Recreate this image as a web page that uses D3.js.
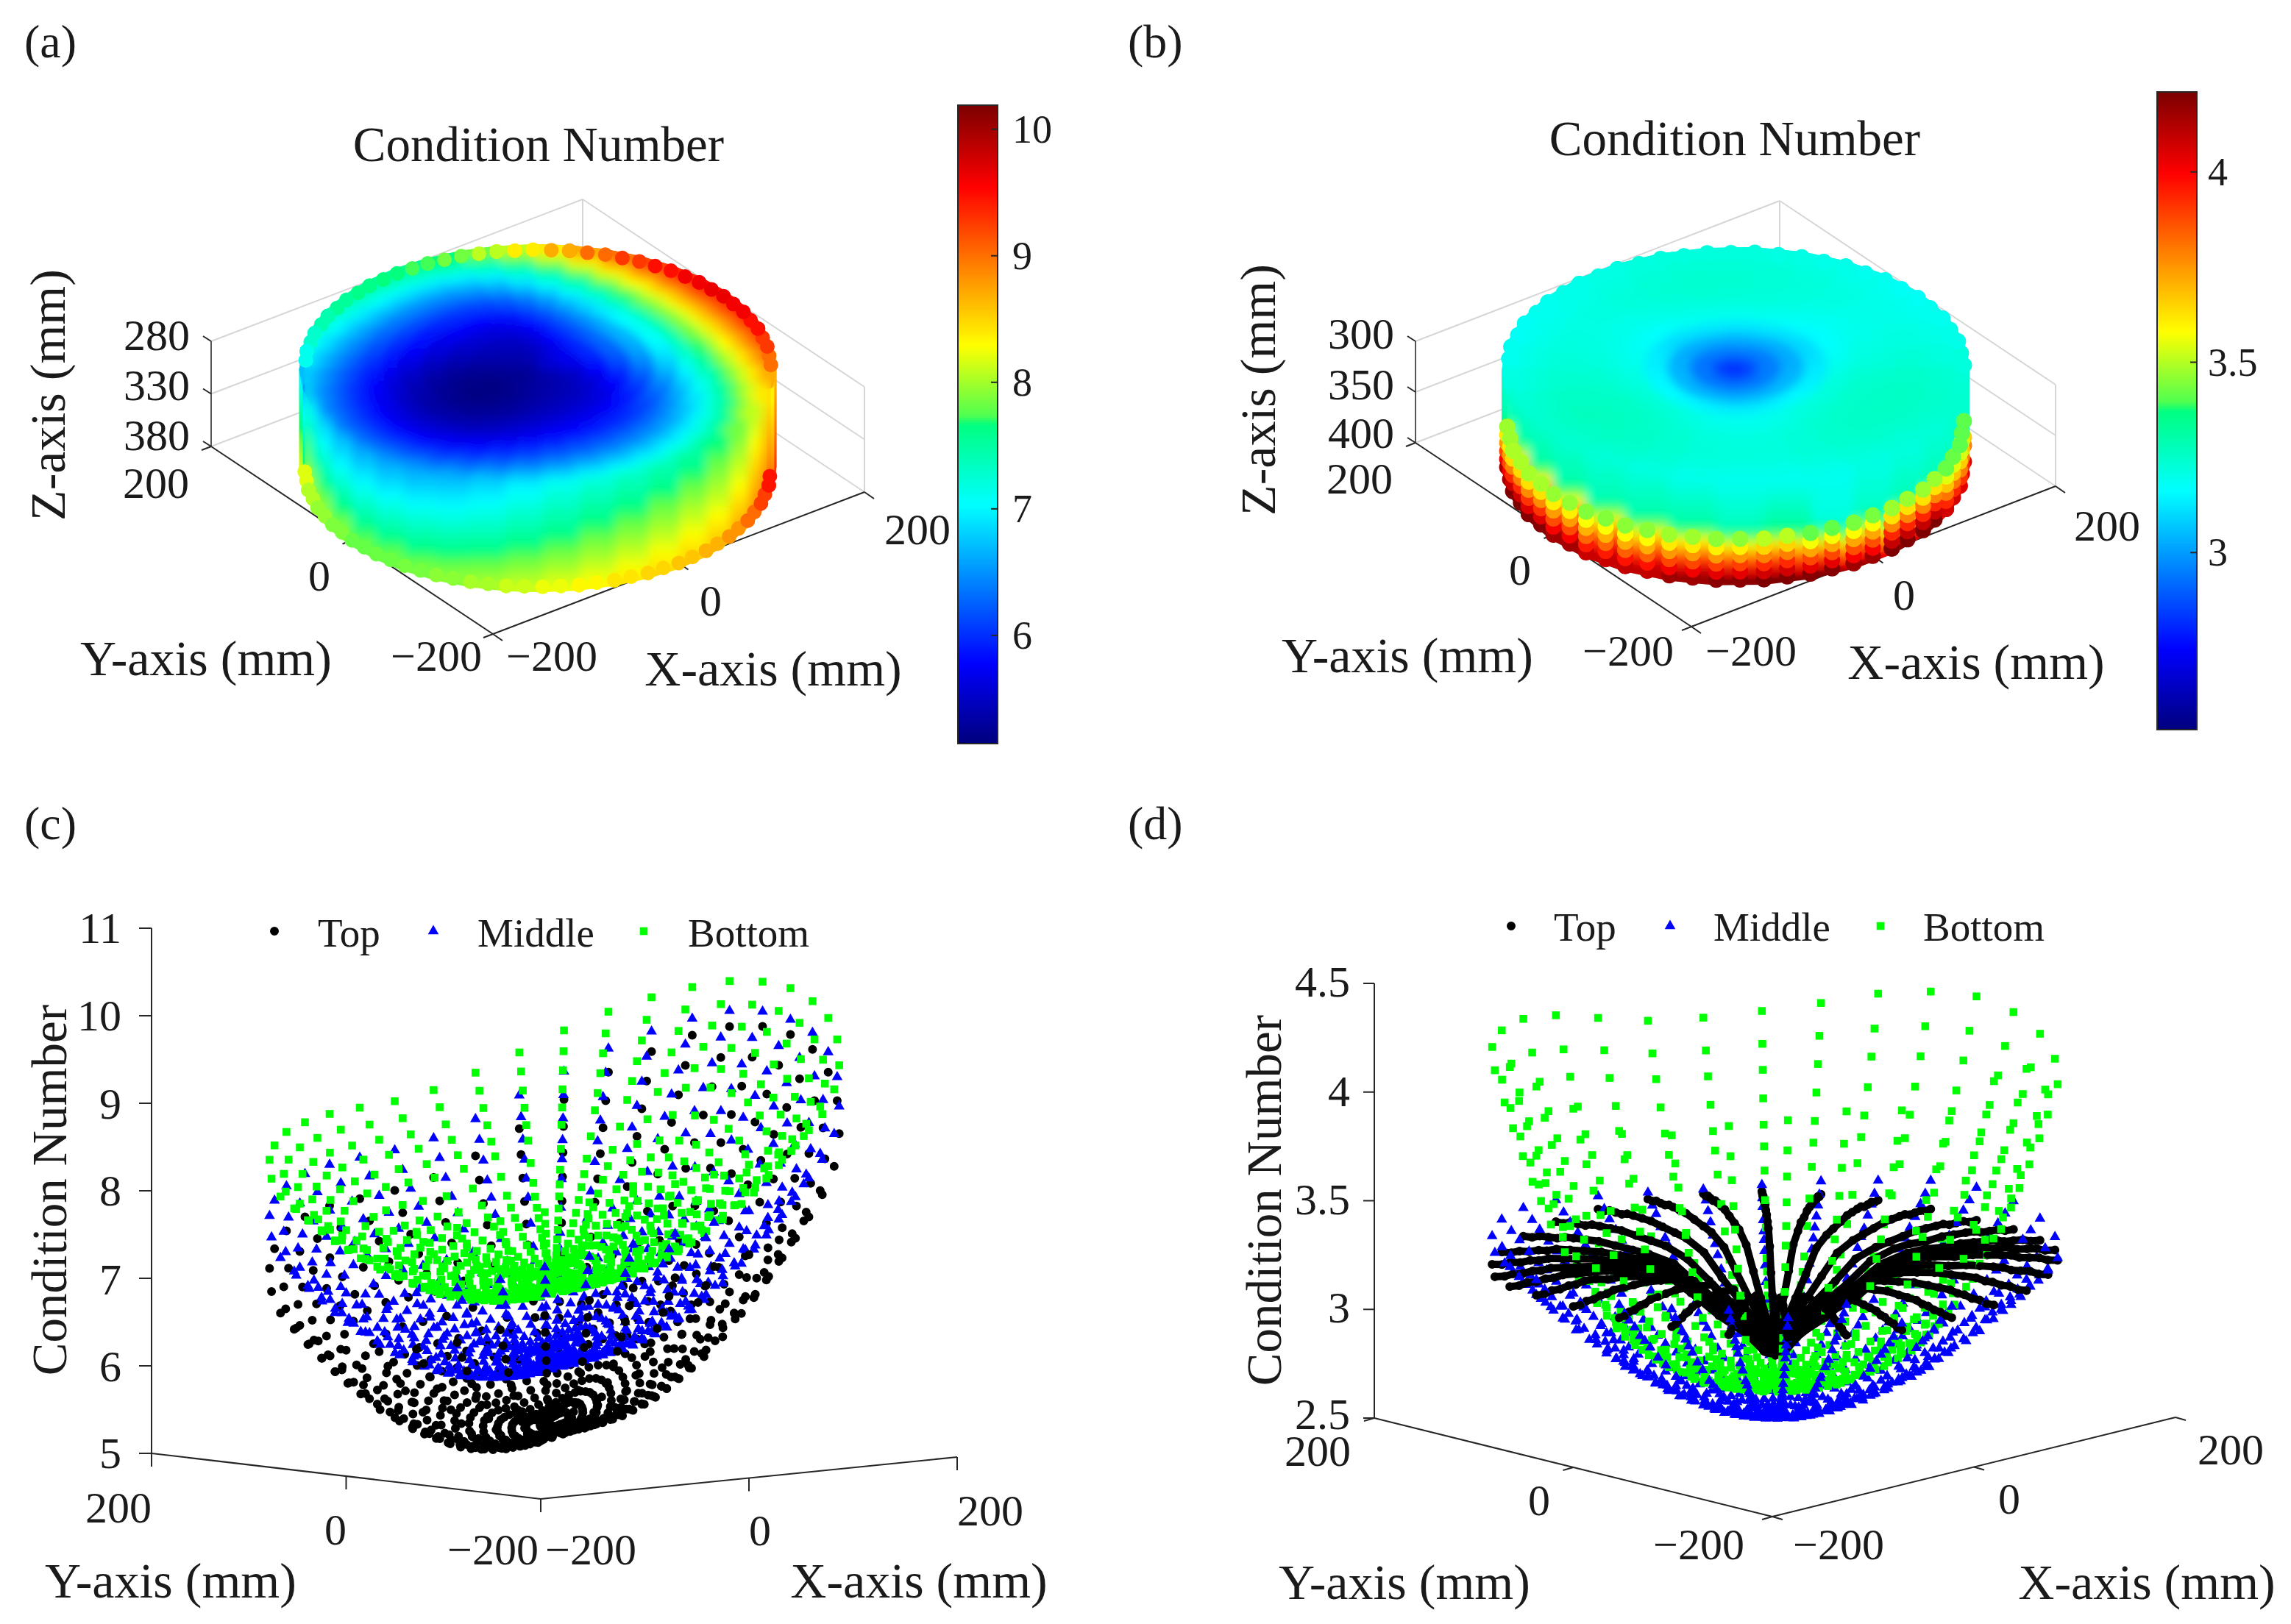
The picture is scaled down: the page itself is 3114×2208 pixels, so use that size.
<!DOCTYPE html>
<html>
<head>
<meta charset="utf-8">
<script src="https://cdn.jsdelivr.net/npm/d3@7"></script>
<style>
body { margin: 0; background: #fff; }
text { font-family: "Liberation Serif", "Times New Roman", serif; fill: #1a1a1a; }
</style>
</head>
<body>
<svg id="chart" width="3114" height="2208"></svg>
<script>
// polar sampling of the workspace, radius in mm (outer ring first)
const spokesC = d3.range(0, 360, 9);
const ringsC = [200, 190, 180, 170, 160, 150, 135, 120, 100, 80, 60, 40, 20];
const ringsCInner = [110, 90, 70, 50, 30, 10];
const spokesD = d3.range(0, 360, 12);
const ringsD = [200, 193, 187, 180, 173, 167, 160, 150, 140, 127, 113, 100, 80, 60, 40, 20, 8];
const ringsDInner = [120, 107, 90, 70, 50, 30];

// condition number x 100, one row per spoke
const topC = [
[966,932,900,869,838,810,769,732,687,646,612,583,558],[962,928,896,865,835,807,766,729,685,645,611,582,558],
[949,916,884,854,825,798,758,722,678,639,607,579,557],[928,896,866,836,808,782,743,709,667,631,600,575,554],
[903,872,843,815,788,763,726,694,655,621,593,570,552],[871,842,814,788,762,739,705,675,639,608,583,564,549],
[838,810,785,760,736,714,683,655,622,595,574,557,546],[808,782,757,734,712,692,662,637,607,583,564,551,542],
[785,760,737,715,694,675,647,623,596,574,558,546,540],[773,749,726,705,684,665,639,616,590,569,554,544,539],
[767,743,721,699,679,661,635,612,587,567,552,543,538],[763,739,717,696,676,658,632,610,585,565,551,542,538],
[755,731,710,689,670,652,627,605,581,562,549,540,537],[744,721,700,680,661,644,619,599,575,557,545,538,536],
[729,707,686,667,649,633,609,590,568,551,541,535,535],[712,691,671,653,635,620,598,579,560,545,536,532,533],
[691,671,652,635,618,604,583,567,549,536,529,528,531],[672,653,635,619,603,590,571,555,540,529,524,524,529],
[660,641,624,608,594,581,562,548,534,524,520,521,528],[650,632,615,600,586,573,556,542,529,520,517,519,527],
[644,626,610,595,581,569,552,539,525,517,515,518,526],[646,628,612,597,582,570,553,540,526,518,516,519,526],
[652,634,617,602,587,575,557,543,529,521,518,520,527],[662,643,626,610,595,582,564,549,534,525,521,522,528],
[678,658,641,624,608,594,575,559,542,531,525,525,530],[695,674,656,638,622,607,586,569,551,538,531,528,531],
[712,691,671,653,635,620,598,579,560,545,536,532,533],[725,703,683,664,646,630,606,587,566,550,540,534,534],
[735,712,692,672,654,637,613,593,571,554,543,536,535],[745,722,701,681,662,644,620,599,576,558,546,538,536],
[755,731,710,689,670,652,627,605,581,562,549,540,537],[768,744,722,700,680,662,635,613,587,567,552,543,538],
[785,760,737,715,694,675,647,623,596,574,558,546,540],[810,784,759,736,714,693,664,638,609,584,565,551,543],
[837,809,784,759,735,714,682,654,622,595,573,557,545],[869,840,812,786,761,738,704,674,638,607,583,563,549],
[901,870,841,813,786,762,725,693,654,620,592,570,552],[928,896,866,836,808,782,743,709,667,631,600,575,554],
[949,916,884,854,825,798,758,722,678,639,607,579,557],[961,927,895,864,834,807,766,729,684,644,610,582,558]
];
const middleC = [
[983,954,925,898,874,849,813,781,743,709,679,653,633],[980,951,923,896,871,847,811,779,741,708,678,653,632],
[968,940,912,886,862,838,803,772,735,703,675,650,631],[951,924,897,871,848,825,792,762,726,696,670,647,630],
[930,904,878,853,831,809,778,749,716,688,663,643,627],[903,878,853,830,810,789,759,733,702,677,655,637,625],
[876,853,829,808,788,768,741,717,689,666,647,632,622],[850,828,806,785,767,749,724,701,676,656,639,627,619],
[830,809,788,768,751,734,710,689,666,648,633,623,617],[819,798,778,759,742,726,703,683,660,643,630,621,616],
[814,794,773,755,738,722,699,680,658,641,628,620,616],[810,790,770,751,735,719,697,677,656,640,627,619,615],
[804,784,764,746,730,715,693,674,653,637,625,618,615],[795,776,756,739,723,708,687,668,649,634,623,616,614],
[784,765,746,729,714,700,679,662,643,629,619,614,613],[772,754,735,719,705,691,671,655,637,624,616,611,612],
[753,736,718,703,690,676,658,643,628,617,610,607,610],[735,719,702,688,675,663,646,632,619,610,605,604,608],
[720,704,689,675,663,652,636,623,611,604,600,601,606],[711,696,680,667,656,645,630,618,606,600,597,599,606],
[709,694,679,666,654,643,629,617,606,599,597,599,605],[711,696,680,667,656,645,630,618,606,600,597,599,606],
[716,700,685,672,660,648,633,621,609,602,599,600,606],[724,708,692,678,666,654,639,626,613,605,601,602,607],
[735,719,702,688,675,663,646,632,619,610,605,604,608],[750,733,716,700,687,674,656,641,626,616,609,607,609],
[762,744,726,711,697,683,664,649,632,620,613,609,611],[775,757,738,722,707,693,673,656,638,626,617,612,612],
[785,766,747,730,715,700,680,662,644,630,620,614,613],[795,776,756,739,723,708,687,668,649,634,623,616,614],
[805,785,765,747,731,715,693,674,654,638,626,618,615],[812,792,771,753,737,721,698,679,657,640,628,619,616],
[827,806,785,766,749,732,708,688,665,646,632,622,617],[850,828,806,785,767,749,724,701,676,656,639,627,619],
[874,851,827,806,786,767,740,716,688,665,646,632,622],[900,875,851,828,807,787,757,731,701,676,654,637,624],
[928,902,876,852,830,808,776,748,715,687,663,642,627],[951,924,897,871,848,825,792,762,726,696,670,647,630],
[968,940,912,886,862,838,803,772,735,703,675,650,631],[978,949,921,894,870,845,810,778,740,707,678,652,632]
];
const bottomC = [
[1017,992,968,945,922,902,872,845,811,781,756,735,717],[1014,989,966,943,920,899,870,843,810,780,756,734,717],
[1004,980,957,934,912,892,863,837,805,776,753,732,716],[990,966,944,922,901,881,853,829,798,770,748,729,714],
[972,949,928,907,886,868,841,818,789,763,743,726,712],[950,928,908,888,869,851,826,805,778,754,736,721,710],
[925,905,885,867,849,833,810,790,765,744,729,716,708],[903,884,866,848,831,816,795,776,754,736,722,712,705],
[885,867,849,833,817,803,783,766,745,728,717,708,704],[875,857,840,825,809,795,776,760,740,724,714,706,703],
[871,853,837,821,806,792,773,757,738,723,713,705,702],[868,851,834,819,803,790,771,755,737,722,712,705,702],
[863,846,830,814,799,786,768,752,734,720,710,704,701],[857,840,824,809,794,781,764,749,731,717,708,703,701],
[847,831,815,801,786,774,757,743,726,713,705,701,700],[836,820,805,791,778,766,749,736,720,709,702,698,699],
[820,805,791,778,765,754,739,727,712,702,697,695,697],[805,791,777,765,753,742,729,718,705,696,693,692,696],
[796,782,769,757,746,736,722,712,700,693,690,690,695],[789,776,763,752,740,730,718,708,697,690,688,689,694],
[781,768,756,745,734,725,712,703,693,687,686,687,693],[783,770,758,746,735,726,714,704,694,688,686,688,693],
[786,773,760,749,738,728,716,706,696,689,687,688,694],[793,779,767,755,743,733,720,710,699,692,689,690,694],
[802,788,775,763,750,740,727,716,704,695,692,692,695],[813,798,785,772,759,749,734,722,709,700,695,694,696],
[824,809,795,781,768,757,741,729,715,704,699,696,698],[833,817,803,789,775,764,747,734,719,708,701,698,698],
[842,826,811,797,782,770,754,740,724,711,704,700,699],[850,833,818,803,789,776,759,745,728,714,706,701,700],
[858,841,825,810,795,782,764,749,732,718,709,703,701],[868,851,834,819,803,790,771,755,737,722,712,705,702],
[882,864,847,831,814,800,781,764,744,727,716,708,703],[902,883,865,848,830,815,794,776,754,735,722,712,705],
[925,905,885,867,849,833,810,790,765,744,729,716,708],[947,926,905,886,866,849,824,803,776,753,735,721,710],
[971,948,927,906,886,867,841,817,788,763,743,725,712],[990,966,944,922,901,881,853,829,798,770,748,729,714],
[1004,980,957,934,912,892,863,837,805,776,753,732,716],[1014,989,966,943,920,899,870,843,810,780,756,734,717]
];
// the crowded inner rings of (c), same units
const topCInner = [
[709,665,628,597,569,548],[706,664,627,596,569,548],[699,658,622,593,567,547],[688,648,615,587,564,546],
[674,637,606,581,560,545],[656,623,595,573,555,543],[638,608,583,565,550,542],[622,594,573,557,546,540],
[609,584,565,552,542,539],[603,579,560,548,540,539],[599,576,558,547,540,538],[597,574,557,546,539,538],
[593,570,554,544,538,538],[587,565,550,541,536,537],[578,559,545,538,534,536],[569,551,539,533,531,535],
[557,542,532,528,528,534],[547,533,525,523,525,533],[540,528,521,520,524,533],[535,523,517,518,522,532],
[532,520,515,516,521,532],[533,521,516,517,521,532],[536,524,518,518,522,532],[541,529,522,521,524,533],
[550,536,527,525,526,534],[560,543,533,529,529,535],[569,551,539,533,531,535],[576,557,544,537,533,536],
[582,561,547,539,535,537],[587,566,551,542,536,537],[593,570,554,544,538,538],[600,576,559,547,540,538],
[609,584,565,552,542,539],[623,595,573,558,546,540],[638,607,583,565,550,542],[655,622,594,573,555,543],
[673,636,605,581,560,545],[688,648,615,587,564,546],[699,658,622,593,567,547],[706,663,626,596,569,548]
];
const middleCInner = [
[761,725,693,665,643,625],[760,723,692,665,642,625],[753,718,688,662,640,624],[744,710,682,657,638,623],
[732,701,674,652,635,622],[717,689,665,645,631,621],[703,677,656,639,627,620],[688,665,646,632,623,618],
[677,656,639,627,620,617],[671,651,636,624,618,617],[668,649,634,623,617,616],[666,647,632,622,617,616],
[663,644,630,621,616,616],[658,640,627,618,614,615],[652,635,623,616,613,615],[645,630,619,613,611,614],
[635,621,612,608,608,613],[625,613,606,603,605,612],[617,606,601,600,603,612],[612,602,598,597,602,611],
[611,601,597,597,601,611],[612,602,598,597,602,611],[614,604,600,599,603,612],[619,608,602,601,604,612],
[625,613,606,603,605,612],[633,620,611,607,608,613],[640,625,616,610,609,614],[647,631,620,613,611,614],
[652,636,624,616,613,615],[658,640,627,618,614,615],[663,645,631,621,616,616],[667,648,633,623,617,616],
[676,654,638,626,619,617],[688,665,646,632,623,618],[701,676,655,638,626,619],[716,687,664,645,630,621],
[731,700,674,651,634,622],[744,710,682,657,638,623],[753,718,688,662,640,624],[759,722,691,664,642,625]
];
const bottomCInner = [
[827,796,768,745,725,709],[825,795,767,744,724,709],[820,790,764,741,723,708],[812,784,759,738,721,708],
[802,776,753,733,718,707],[790,766,745,728,715,706],[776,755,736,722,711,704],[764,745,728,716,708,703],
[754,737,722,712,705,702],[749,732,719,709,703,702],[747,730,717,708,703,702],[745,729,716,707,702,701],
[742,727,714,706,702,701],[739,724,712,705,701,701],[733,720,709,702,699,700],[727,715,705,699,698,700],
[719,707,699,695,695,699],[710,701,694,692,693,698],[705,697,691,689,692,698],[702,694,689,688,691,698],
[697,690,686,686,689,697],[698,691,686,686,690,697],[700,692,687,687,690,697],[704,695,690,689,691,698],
[709,699,693,691,692,698],[715,704,697,694,694,699],[721,709,701,696,696,699],[726,713,704,699,697,700],
[731,717,707,701,698,700],[735,721,710,703,700,701],[739,725,713,705,701,701],[745,729,716,707,702,701],
[753,735,721,711,704,702],[764,744,728,716,707,703],[776,755,736,722,711,704],[788,765,744,727,714,705],
[802,775,752,733,718,707],[812,784,759,738,721,708],[820,790,764,741,723,708],[825,795,767,744,724,709]
];

// condition number x 100, one row per spoke
const topD = [
[318,318,319,319,319,320,320,320,320,319,318,317,314,306,299,291,283],[319,319,320,320,320,321,321,321,321,320,319,318,315,307,299,291,283],
[320,320,321,321,321,322,322,322,322,321,320,319,316,307,299,291,283],[321,321,322,322,323,323,323,323,323,322,322,320,317,308,300,291,283],
[322,322,322,323,323,323,324,324,323,323,322,321,316,307,300,292,283],[322,322,323,323,323,324,324,324,324,323,322,321,317,308,299,291,283],
[322,322,323,323,323,324,324,324,324,323,322,321,317,308,299,291,283],[321,321,322,322,322,323,323,323,323,322,321,320,316,307,299,291,283],
[320,320,321,321,321,322,322,322,322,321,320,319,315,307,299,290,282],[319,319,320,320,320,321,321,321,321,320,319,318,315,306,298,290,282],
[318,318,319,319,320,320,321,321,321,321,320,319,317,308,298,289,281],[319,319,320,320,321,321,322,322,322,322,321,320,318,309,298,289,281],
[320,320,321,321,322,322,323,323,323,323,322,321,319,309,298,289,281],[322,322,323,323,324,324,325,325,325,325,324,323,320,310,299,289,281],
[324,324,325,325,326,326,327,327,326,326,325,324,321,310,299,290,281],[324,324,325,325,326,326,327,327,327,327,326,325,322,310,298,289,281],
[323,323,324,324,325,325,326,326,326,326,325,324,322,309,298,289,281],[322,322,323,323,324,324,325,325,325,325,324,323,321,309,298,289,281],
[320,320,321,321,322,322,323,323,323,323,322,321,319,309,298,289,281],[319,319,320,320,321,321,322,322,322,322,321,320,318,308,297,288,280],
[319,319,320,320,321,321,322,322,322,322,321,320,318,308,298,289,281],[319,319,320,320,321,321,322,322,322,322,321,320,318,309,298,289,281],
[321,321,322,322,323,323,324,324,324,324,323,322,320,309,298,289,281],[322,322,323,323,324,324,325,325,325,325,324,323,321,310,299,289,281],
[323,323,324,324,325,325,326,326,326,326,325,324,321,310,299,290,281],[324,324,325,325,325,326,326,326,326,325,325,324,320,308,300,291,283],
[324,324,325,325,325,326,326,326,326,325,325,324,320,308,300,291,283],[322,322,323,323,323,324,324,324,324,323,323,322,318,307,299,291,283],
[320,320,321,321,321,322,322,322,322,321,321,320,316,307,299,291,283],[319,319,320,320,320,321,321,321,321,320,320,319,315,306,299,291,283]
];
const middleD = [
[333,328,324,319,314,311,306,300,295,288,281,275,268,261,256,253,252],[332,327,323,318,314,310,306,300,294,287,281,275,267,261,256,253,252],
[329,324,320,316,311,308,304,298,293,286,280,274,267,261,256,253,252],[327,322,318,314,310,306,302,297,291,285,279,274,266,261,256,253,252],
[325,320,317,312,308,305,301,296,290,284,278,273,266,260,256,253,252],[324,320,316,312,307,304,300,295,290,284,278,273,266,260,256,253,252],
[325,320,317,312,308,305,301,296,290,284,278,273,266,260,256,253,252],[327,322,318,314,310,306,302,297,291,285,279,274,266,261,256,253,252],
[330,325,321,317,312,308,304,298,293,286,280,274,267,261,256,253,252],[332,327,323,318,314,310,306,300,294,287,281,275,267,261,256,253,252],
[333,328,324,319,314,311,306,300,295,288,281,275,268,261,256,253,252],[332,327,323,318,314,310,306,300,294,287,281,275,267,261,256,253,252],
[331,326,322,317,313,309,305,299,294,287,280,275,267,261,256,253,252],[331,326,322,317,313,309,305,299,294,287,280,275,267,261,256,253,252],
[331,326,322,317,313,309,305,299,294,287,280,275,267,261,256,253,252],[330,325,321,317,312,308,304,298,293,286,280,274,267,261,256,253,252],
[329,324,320,316,311,308,304,298,293,286,280,274,267,261,256,253,252],[330,325,321,317,312,308,304,298,293,286,280,274,267,261,256,253,252],
[331,326,322,317,313,309,305,299,294,287,280,275,267,261,256,253,252],[328,323,319,315,311,307,303,297,292,286,279,274,267,261,256,253,252],
[333,328,324,319,314,311,306,300,295,288,281,275,268,261,256,253,252],[322,318,314,310,306,303,299,294,289,283,277,272,265,260,256,253,252],
[326,321,318,313,309,306,302,296,291,285,278,273,266,261,256,253,252],[328,323,319,315,311,307,303,297,292,286,279,274,267,261,256,253,252],
[328,323,319,315,311,307,303,297,292,286,279,274,267,261,256,253,252],[326,321,318,313,309,306,302,296,291,285,278,273,266,261,256,253,252],
[325,320,317,312,308,305,301,296,290,284,278,273,266,260,256,253,252],[328,323,319,315,311,307,303,297,292,286,279,274,267,261,256,253,252],
[330,325,321,317,312,308,304,298,293,286,280,274,267,261,256,253,252],[332,327,323,318,314,310,306,300,294,287,281,275,267,261,256,253,252]
];
const bottomD = [
[421,406,393,380,367,357,346,333,320,307,296,287,278,272,269,268,268],[419,404,391,378,366,356,345,332,320,307,295,287,278,272,269,268,268],
[415,400,388,375,363,354,343,330,318,306,294,286,277,272,269,268,268],[409,395,383,371,359,350,340,327,316,304,293,286,277,272,269,268,268],
[405,391,380,368,357,348,338,326,315,303,293,285,277,272,269,268,268],[403,389,378,366,355,347,337,325,314,303,292,285,277,272,269,268,268],
[404,390,379,367,356,347,338,325,315,303,292,285,277,272,269,268,268],[409,395,383,371,359,350,340,327,316,304,293,286,277,272,269,268,268],
[415,400,388,375,363,354,343,330,318,306,294,286,277,272,269,268,268],[419,404,391,378,366,356,345,332,320,307,295,287,278,272,269,268,268],
[420,405,392,379,366,356,346,332,320,307,295,287,278,272,269,268,268],[419,404,391,378,366,356,345,332,320,307,295,287,278,272,269,268,268],
[415,400,388,375,363,354,343,330,318,306,294,286,277,272,269,268,268],[423,407,395,381,368,358,347,333,321,308,296,287,278,272,269,268,268],
[420,405,392,379,366,356,346,332,320,307,295,287,278,272,269,268,268],[415,400,388,375,363,354,343,330,318,306,294,286,277,272,269,268,268],
[409,395,383,371,359,350,340,327,316,304,293,286,277,272,269,268,268],[410,396,384,372,360,351,341,328,317,304,294,286,277,272,269,268,268],
[416,401,389,376,364,354,344,330,319,306,295,287,277,272,269,268,268],[419,404,391,378,366,356,345,332,320,307,295,287,278,272,269,268,268],
[422,406,394,380,368,358,347,333,321,307,296,287,278,272,269,268,268],[420,405,392,379,366,356,346,332,320,307,295,287,278,272,269,268,268],
[416,401,389,376,364,354,344,330,319,306,295,287,277,272,269,268,268],[425,409,396,382,370,359,348,334,322,308,296,288,278,272,269,268,268],
[425,409,396,382,370,359,348,334,322,308,296,288,278,272,269,268,268],[407,393,382,369,358,349,339,327,316,304,293,285,277,272,269,268,268],
[405,391,380,368,357,348,338,326,315,303,293,285,277,272,269,268,268],[410,396,384,372,360,351,341,328,317,304,294,286,277,272,269,268,268],
[415,400,388,375,363,354,343,330,318,306,294,286,277,272,269,268,268],[419,404,391,378,366,356,345,332,320,307,295,287,278,272,269,268,268]
];
// the crowded inner rings of (d), same units
const middleDInner = [
[284,278,271,264,259,255],[284,278,271,264,259,255],[283,277,270,264,258,255],[282,276,270,263,258,254],[281,276,269,263,258,254],
[281,275,269,263,258,254],[281,276,269,263,258,254],[282,276,270,263,258,254],[283,277,271,264,258,255],[284,278,271,264,259,255],
[284,278,271,264,259,255],[284,278,271,264,259,255],[284,278,271,264,258,255],[284,278,271,264,258,255],[284,278,271,264,258,255],
[283,277,271,264,258,255],[283,277,270,264,258,255],[283,277,271,264,258,255],[284,278,271,264,258,255],[282,277,270,263,258,255],
[284,278,271,264,259,255],[280,275,269,263,258,254],[282,276,270,263,258,254],[282,277,270,263,258,255],[282,277,270,263,258,255],
[282,276,270,263,258,254],[281,276,269,263,258,254],[282,277,270,263,258,255],[283,277,271,264,258,255],[284,278,271,264,259,255]
];
const bottomDInner = [
[301,291,282,275,270,268],[301,291,282,274,270,268],[300,290,281,274,270,268],[298,290,281,274,270,268],[298,289,280,274,270,268],
[297,289,280,274,270,268],[297,289,280,274,270,268],[298,290,281,274,270,268],[300,290,281,274,270,268],[301,291,282,274,270,268],
[301,291,282,275,270,268],[301,291,282,274,270,268],[300,290,281,274,270,268],[301,292,282,275,270,268],[301,291,282,275,270,268],
[300,290,281,274,270,268],[298,290,281,274,270,268],[299,290,281,274,270,268],[300,291,281,274,270,268],[301,291,282,274,270,268],
[301,292,282,275,270,268],[301,291,282,275,270,268],[300,291,281,274,270,268],[302,292,282,275,271,268],[302,292,282,275,271,268],
[298,289,281,274,270,268],[298,289,280,274,270,268],[299,290,281,274,270,268],[300,290,281,274,270,268],[301,291,282,274,270,268]
];

// tick values and tick labels
const xyTicks = [-200, 0, 200];
const xyTickLabels = ["\u2212200", "0", "200"];
const zTicksA = [280, 330, 380];
const zTicksB = [300, 350, 400];
const zTicksC = [1100, 1000, 900, 800, 700, 600, 500];
const zLabelsC = ["11", "10", "9", "8", "7", "6", "5"];
const zTicksD = [450, 400, 350, 300, 250];
const zLabelsD = ["4.5", "4", "3.5", "3", "2.5"];
const barTicksA = [1000, 900, 800, 700, 600];
const barLabelsA = ["10", "9", "8", "7", "6"];
const barTicksB = [400, 350, 300];
const barLabelsB = ["4", "3.5", "3"];
const seriesNames = ["Top", "Middle", "Bottom"];

// jet style colormap
const jetStops = [0, 0.125, 0.375, 0.5, 0.515, 0.625, 0.875, 1];
const jetColors = ["#00007f", "#0000ff", "#00ffff", "#00ff80", "#50ff50", "#ffff00", "#ff0000", "#7f0000"];
const jet = d3.scaleLinear().domain(jetStops).range(jetColors).clamp(true);

const svg = d3.select("#chart");
const defs = svg.append("defs");
defs.append("filter").attr("id", "soften").attr("x", "-5%").attr("y", "-5%").attr("width", "110%").attr("height", "110%")
    .append("feGaussianBlur").attr("stdDeviation", 7);

const rad = (deg) => deg * Math.PI / 180;

// oblique 3D projection built out of one linear scale per screen direction
const makeProjection = (p) => {
    const dom = [-200, 200];
    const xH = d3.scaleLinear().domain(dom).range([0, p.right[0] - p.front[0]]);
    const xV = d3.scaleLinear().domain(dom).range([0, p.right[1] - p.front[1]]);
    const yH = d3.scaleLinear().domain(dom).range([0, p.left[0] - p.front[0]]);
    const yV = d3.scaleLinear().domain(dom).range([0, p.left[1] - p.front[1]]);
    const zV = d3.scaleLinear().domain(p.zDomain).range([0, p.zTopY - p.left[1]]);
    const project = (x, y, z) => [p.front[0] + xH(x) + yH(y), p.front[1] + xV(x) + yV(y) + zV(z)];
    project.floorDepth = (x, y) => xV(x) + yV(y);
    project.zPixels = (z) => -zV(z);
    return project;
};

const drawText = (g, str, x, y, size, anchor, rotate) => {
    const t = g.append("text").text(str).attr("font-size", size).attr("text-anchor", anchor || "middle");
    if (rotate) t.attr("transform", "translate(" + x + "," + y + ") rotate(-90)");
    else t.attr("x", x).attr("y", y);
    return t;
};

// box lines, ticks and labels
const drawAxes = (g, p, project) => {
    const lo = p.zDomain[0];
    const zTop = p.zTicks[0];
    const line = (a, b, color, w) => g.append("line")
        .attr("x1", a[0]).attr("y1", a[1]).attr("x2", b[0]).attr("y2", b[1])
        .attr("stroke", color).attr("stroke-width", w);

    if (p.grid) {
        const gray = "#d6d6d6";
        p.zTicks.forEach((z) => {
            line(project(-200, 200, z), project(200, 200, z), gray, 2);
            line(project(200, 200, z), project(200, -200, z), gray, 2);
        });
        line(project(200, 200, lo), project(200, 200, zTop), gray, 2);
        line(project(200, -200, lo), project(200, -200, zTop), gray, 2);
    }
    const dark = "#262626";
    line(project(-200, 200, lo), project(-200, -200, lo), dark, 2);
    line(project(-200, -200, lo), project(200, -200, lo), dark, 2);
    line(project(-200, 200, lo), project(-200, 200, zTop), p.grid ? "#555" : dark, 2);

    xyTicks.forEach((t) => {
        const a = project(t, -200, lo), b = project(-200, t, lo), c = [a[0] + p.xTick[0], a[1] + p.xTick[1]], d = [b[0] + p.yTick[0], b[1] + p.yTick[1]];
        line(a, c, dark, 2);
        line(b, d, dark, 2);
    });
    p.zTicks.forEach((z) => {
        const a = project(-200, 200, z);
        line(a, [a[0] + p.zTick[0], a[1] + p.zTick[1]], dark, 2);
    });

    xyTickLabels.forEach((s, i) => {
        drawText(g, s, p.xLabelAt[i][0], p.xLabelAt[i][1] + 20, 60);
        drawText(g, s, p.yLabelAt[i][0], p.yLabelAt[i][1] + 20, 60);
    });
    p.zLabels.forEach((s, i) => drawText(g, s, p.zLabelRight, p.zLabelY[i] + 20, 60, "end"));

    drawText(g, "X-axis (mm)", p.xName[0], p.xName[1], 68);
    drawText(g, "Y-axis (mm)", p.yName[0], p.yName[1], 68);
    drawText(g, p.zName[2], p.zName[0], p.zName[1], p.zName[3], "middle", true);
    drawText(g, p.panel, p.panelAt[0], p.panelAt[1], 64, "start");
};

// the sampled workspace seen as a solid disc, (a) and (b)
const drawDisc = (g, p, project, spokes, rings, top, middle, bottom) => {
    const color = (v) => jet((v - p.barDomain[0]) / (p.barDomain[1] - p.barDomain[0]));
    const n = spokes.length;
    const rimAt = (i, r, z) => project(r * Math.cos(rad(spokes[i % n])), r * Math.sin(rad(spokes[i % n])), z);
    const levels = p.levels;
    // far side first so the near wall hides it
    const farToNear = d3.range(n).sort((a, b) => d3.ascending(rimAt(a, 200, levels[2])[1] + rimAt(a + 1, 200, levels[2])[1], rimAt(b, 200, levels[2])[1] + rimAt(b + 1, 200, levels[2])[1]));

    const paint = (parent, outline) => {
        farToNear.forEach((i) => {
            const id = "side-" + p.panel[1] + "-" + i + (outline ? "u" : "b");
            const a = rimAt(i, 200, levels[0]), b = rimAt(i, 200, levels[2]);
            const along = d3.scaleLinear().domain(levels).range([top[i][0], middle[i][0], bottom[i][0]]);
            const grad = defs.append("linearGradient").attr("id", id).attr("gradientUnits", "userSpaceOnUse")
                .attr("x1", 0).attr("x2", 0).attr("y1", a[1]).attr("y2", b[1]);
            d3.range(0, 1.001, 1 / 14).forEach((t) => {
                grad.append("stop").attr("offset", t).attr("stop-color", color(along(levels[0] + t * (levels[2] - levels[0]))));
            });
            parent.append("polygon")
                .attr("points", [a, rimAt(i + 1, 200, levels[0]), rimAt(i + 1, 200, levels[2]), b].join(" "))
                .attr("fill", "url(#" + id + ")").attr("stroke", "url(#" + id + ")")
                .attr("stroke-width", outline ? 15 : 2).attr("stroke-linejoin", "round");
        });
        spokes.forEach((s, i) => {
            const j2 = (i + 1) % n;
            rings.forEach((r, k) => {
                const inner = k + 1 < rings.length ? rings[k + 1] : 0;
                const v = k + 1 < rings.length ? d3.mean([top[i][k], top[j2][k], top[i][k + 1], top[j2][k + 1]]) : d3.mean([top[i][k], top[j2][k]]);
                parent.append("polygon")
                    .attr("points", [rimAt(i, r, levels[0]), rimAt(i + 1, r, levels[0]), rimAt(i + 1, inner, levels[0]), rimAt(i, inner, levels[0])].join(" "))
                    .attr("fill", color(v)).attr("stroke", color(v))
                    .attr("stroke-width", outline && k === 0 ? 15 : 1.5).attr("stroke-linejoin", "round");
            });
        });
    };

    paint(g.append("g"), true);

    // smooth the sampled cells, trimmed to the outline of the solid
    const clipId = "clip-" + p.panel[1];
    const clip = defs.append("clipPath").attr("id", clipId);
    const ringPts = (z) => spokes.map((s, i) => rimAt(i, 200, z));
    clip.append("polygon").attr("points", ringPts(levels[0]).join(" "));
    clip.append("polygon").attr("points", ringPts(levels[2]).join(" "));
    spokes.forEach((s, i) => clip.append("polygon").attr("points",
        [rimAt(i, 200, levels[0]), rimAt(i + 1, 200, levels[0]), rimAt(i + 1, 200, levels[2]), rimAt(i, 200, levels[2])].join(" ")));
    paint(g.append("g").attr("clip-path", "url(#" + clipId + ")").append("g").attr("filter", "url(#soften)"), false);

    // scalloped marker rims
    const centre = project(0, 0, levels[0])[1];
    const arcs = (z, values, keep) => spokes.forEach((s, i) => {
        const a = rimAt(i, 200, z), b = rimAt(i + 1, 200, z);
        if (!keep((a[1] + b[1]) / 2)) return;
        const len = Math.hypot(b[0] - a[0], b[1] - a[1]);
        g.append("path").attr("d", "M" + a + "L" + b).attr("fill", "none")
            .attr("stroke", color(values(i))).attr("stroke-width", p.dot * 2)
            .attr("stroke-linecap", "round").attr("stroke-dasharray", "0 " + (len / 2));
    });
    p.scallops.forEach((z) => {
        const along = (i) => d3.scaleLinear().domain(levels).range([top[i][0], middle[i][0], bottom[i][0]])(z);
        const mid = project(0, 0, z)[1];
        arcs(z, along, (y) => y >= mid);
    });
    arcs(levels[0], (i) => top[i][0], (y) => y <= centre);
};

const drawColorbar = (g, p) => {
    const b = p.bar;
    const y = d3.scaleLinear().domain(p.barDomain).range([b.bottom, b.top]);
    const steps = d3.range(0, 256);
    g.selectAll("rect.cell").data(steps).join("rect").attr("class", "cell")
        .attr("x", b.x).attr("width", b.w)
        .attr("y", (d) => b.top + (b.bottom - b.top) * (255 - d) / 256)
        .attr("height", (b.bottom - b.top) / 256 + 1)
        .attr("fill", (d) => jet(d / 255));
    g.append("rect").attr("x", b.x).attr("y", b.top).attr("width", b.w).attr("height", b.bottom - b.top)
        .attr("fill", "none").attr("stroke", "#262626").attr("stroke-width", 2);
    p.barTicks.forEach((t, i) => {
        g.append("line").attr("x1", b.x + b.w - 9).attr("x2", b.x + b.w).attr("y1", y(t)).attr("y2", y(t))
            .attr("stroke", "#262626").attr("stroke-width", 2);
        drawText(g, p.barLabels[i], b.labelX, y(t) + 18, 54, "start");
    });
};

const symbolFor = {
    Top: d3.symbol(d3.symbolCircle, 113)(),
    Middle: d3.symbol(d3.symbolTriangle, 92)(),
    Bottom: d3.symbol(d3.symbolSquare, 112)()
};
const fillFor = { Top: "#000000", Middle: "#0000ff", Bottom: "#00ff00" };

// 3 clouds of markers with depth ordering, (c) and (d)
const drawCloud = (g, p, project, spokes, layers) => {
    const marks = [];
    const depth = (x, y, z) => project.floorDepth(x, y) / p.sinEl + project.zPixels(z) * p.sinEl;
    layers.forEach(([name, rings, table]) => {
        table.forEach((row, i) => {
            const c = Math.cos(rad(spokes[i])), n = Math.sin(rad(spokes[i]));
            row.forEach((v, k) => {
                const x = rings[k] * c, y = rings[k] * n;
                marks.push({ name, at: project(x, y, v), depth: depth(x, y, v) });
                if (p.chainTop && name === "Top" && k + 1 < row.length) {
                    const x2 = rings[k + 1] * c, y2 = rings[k + 1] * n;
                    marks.push({ link: [project(x, y, v), project(x2, y2, row[k + 1])], depth: depth(x, y, v) - 0.1 });
                }
            });
        });
    });
    marks.sort((a, b) => d3.ascending(a.depth, b.depth));
    g.selectAll("path.mark").data(marks).join("path").attr("class", "mark")
        .attr("d", (d) => d.link ? "M" + d.link[0] + "L" + d.link[1] : symbolFor[d.name])
        .attr("transform", (d) => d.link ? null : "translate(" + d.at + ")")
        .attr("fill", (d) => d.link ? "none" : fillFor[d.name])
        .attr("stroke", (d) => d.link ? "#000" : "none")
        .attr("stroke-width", (d) => d.link ? 10 : 0)
        .attr("stroke-linecap", "round");

    seriesNames.forEach((name, i) => {
        g.append("path").attr("d", symbolFor[name]).attr("fill", fillFor[name])
            .attr("transform", "translate(" + p.legend.marks[i] + "," + p.legend.markY + ")");
        drawText(g, name, p.legend.texts[i], p.legend.textY, 55, "start");
    });
};

const panelA = {
    panel: "(a)", panelAt: [33, 78],
    front: [670, 862], right: [1175, 669], left: [287, 607], zTopY: 464, zDomain: [380, 280],
    zTicks: zTicksA, zLabels: zTicksA.map(String), zLabelRight: 258, zLabelY: [456, 524, 592],
    xTick: [13, 9], yTick: [-13, 5], zTick: [-11, -7], grid: true,
    xLabelAt: [[750, 892], [966, 817], [1247, 720]], yLabelAt: [[593, 892], [434, 783], [212, 657]],
    xName: [1051, 932], yName: [280, 918], zName: [88, 537, "Z-axis (mm)", 68],
    levels: [283, 330, 380], dot: 10, scallops: [380],
    barDomain: [514.5, 1019], barTicks: barTicksA, barLabels: barLabelsA,
    bar: { x: 1302, w: 54, top: 143, bottom: 1011, labelX: 1376 },
    title: [732, 219]
};
const panelB = {
    panel: "(b)", panelAt: [1533, 78],
    front: [2299, 852], right: [2794, 661], left: [1924, 602], zTopY: 464, zDomain: [400, 300],
    zTicks: zTicksB, zLabels: zTicksB.map(String), zLabelRight: 1895, zLabelY: [454, 523, 589],
    xTick: [13, 9], yTick: [-13, 5], zTick: [-11, -7], grid: true,
    xLabelAt: [[2380, 885], [2588, 809], [2864, 715]], yLabelAt: [[2213, 885], [2066, 775], [1848, 651]],
    xName: [2686, 923], yName: [1913, 914], zName: [1733, 530, "Z-axis (mm)", 68],
    levels: [305, 350, 400], dot: 11, scallops: [400, 392, 384, 376, 368, 360],
    barDomain: [253.5, 421], barTicks: barTicksB, barLabels: barLabelsB,
    bar: { x: 2932, w: 54, top: 125, bottom: 992, labelX: 3001 },
    title: [2358, 211]
};
const panelC = {
    panel: "(c)", panelAt: [33, 1141],
    front: [735, 2038], right: [1301, 1981], left: [206, 1976], zTopY: 1262, zDomain: [500, 1100],
    zTicks: zTicksC, zLabels: zLabelsC, zLabelRight: 165, zLabelY: [1262, 1381, 1501, 1619, 1740, 1858, 1976],
    xTick: [0, 18], yTick: [0, 18], zTick: [-17, 0], grid: false,
    xLabelAt: [[803, 2107], [1033, 2081], [1346, 2054]], yLabelAt: [[670, 2107], [456, 2080], [161, 2050]],
    xName: [1249, 2172], yName: [232, 2172], zName: [90, 1618, "Condition Number", 67],
    sinEl: 0.15, chainTop: false,
    legend: { marks: [373, 589, 875], texts: [432, 649, 935], markY: 1266, textY: 1287 }
};
const panelD = {
    panel: "(d)", panelAt: [1533, 1141],
    front: [2409, 2062], right: [2957, 1927], left: [1868, 1928], zTopY: 1337, zDomain: [250, 450],
    zTicks: zTicksD, zLabels: zLabelsD, zLabelRight: 1835, zLabelY: [1335, 1484, 1631, 1778, 1923],
    xTick: [14, 4], yTick: [-14, 4], zTick: [-15, 0], grid: false,
    xLabelAt: [[2499, 2100], [2731, 2038], [3032, 1971]], yLabelAt: [[2309, 2100], [2092, 2040], [1791, 1973]],
    xName: [2918, 2174], yName: [1909, 2174], zName: [1741, 1632, "Condition Number", 67],
    sinEl: 0.25, chainTop: true,
    legend: { marks: [2054, 2270, 2556], texts: [2112, 2329, 2614], markY: 1259, textY: 1279 }
};

[panelA, panelB].forEach((p, i) => {
    const g = svg.append("g");
    const project = makeProjection(p);
    drawAxes(g, p, project);
    if (i === 0) drawDisc(g, p, project, spokesC, ringsC, topC, middleC, bottomC);
    else drawDisc(g, p, project, spokesD, ringsD, topD, middleD, bottomD);
    drawColorbar(g, p);
    drawText(g, "Condition Number", p.title[0], p.title[1], 67);
});
[panelC, panelD].forEach((p, i) => {
    const g = svg.append("g");
    const project = makeProjection(p);
    drawAxes(g, p, project);
    if (i === 0) drawCloud(g, p, project, spokesC, [
        ["Top", ringsC, topC], ["Top", ringsCInner, topCInner],
        ["Middle", ringsC, middleC], ["Middle", ringsCInner, middleCInner],
        ["Bottom", ringsC, bottomC], ["Bottom", ringsCInner, bottomCInner]
    ]);
    else drawCloud(g, p, project, spokesD, [
        ["Top", ringsD, topD],
        ["Middle", ringsD, middleD], ["Middle", ringsDInner, middleDInner],
        ["Bottom", ringsD, bottomD], ["Bottom", ringsDInner, bottomDInner]
    ]);
});
</script>
</body>
</html>
